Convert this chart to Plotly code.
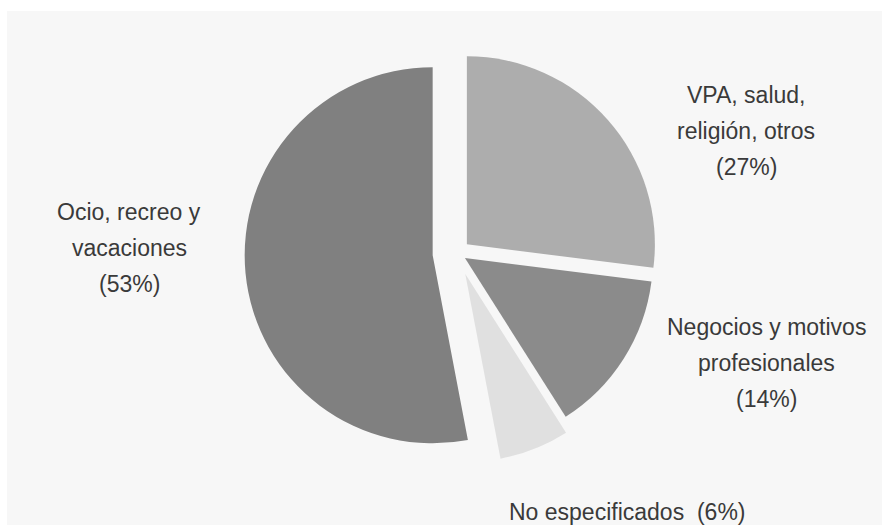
import plotly.graph_objects as go

# Data
categories = ["VPA, salud,\nreligión, otros", "Negocios y motivos\nprofesionales", "No especificados", "Ocio, recreo y\nvacaciones"]
values = [27, 14, 6, 53]

# Styles
colors = ["#adadad", "#8b8b8b", "#e0e0e0", "#808080"]
pulls = [0.07, 0.05, 0.12, 0.13]
bg = "#f7f7f7"
OX, OY = 7, 11            # page offset of the grey panel
W, H = 882 - OX, 525 - OY  # figure size


def px(x):
    return (x - OX) / W


def py(y):
    return 1 - (y - OY) / H


# pie placement in page pixels
cx, cy, r = 457, 253, 188
half = r * (1 + max(pulls))

fig = go.Figure()
fig.add_trace(go.Pie(
    labels=[c.replace("\n", " ") for c in categories],
    values=values,
    sort=False,
    direction="clockwise",
    rotation=0,
    pull=pulls,
    marker=dict(colors=colors, line=dict(width=0)),
    textinfo="none",
    hoverinfo="label+percent",
    showlegend=False,
    domain=dict(x=[px(cx - half), px(cx + half)], y=[py(cy + half), py(cy - half)]),
))

# label anchor positions (page pixel coords of first line center)
label_pos = {
    0: (746, 95, "multi"),
    1: (766, 327, "multi"),
    2: (627, 512, "single"),
    3: (129, 212, "multi"),
}
line_gap = 36
font = dict(family="Liberation Sans, Arial, sans-serif", size=23, color="#3a3a3a")

annotations = []
for i, (cat, val) in enumerate(zip(categories, values)):
    x, y, mode = label_pos[i]
    if mode == "single":
        lines = [f"{cat}  ({val}%)"]
    else:
        lines = cat.split("\n") + [f"({val}%)"]
    for k, line in enumerate(lines):
        annotations.append(dict(
            x=px(x), y=py(y + k * line_gap),
            xref="paper", yref="paper",
            text=line, showarrow=False,
            xanchor="center", yanchor="middle",
            font=font,
        ))

fig.update_layout(
    width=W, height=H,
    margin=dict(l=0, r=0, t=0, b=0),
    paper_bgcolor=bg, plot_bgcolor=bg,
    annotations=annotations,
)

fig.write_html(
    "out.html",
    post_script=f"document.body.style.margin='{OY}px 0 0 {OX}px';document.body.style.background='#ffffff';",
)
